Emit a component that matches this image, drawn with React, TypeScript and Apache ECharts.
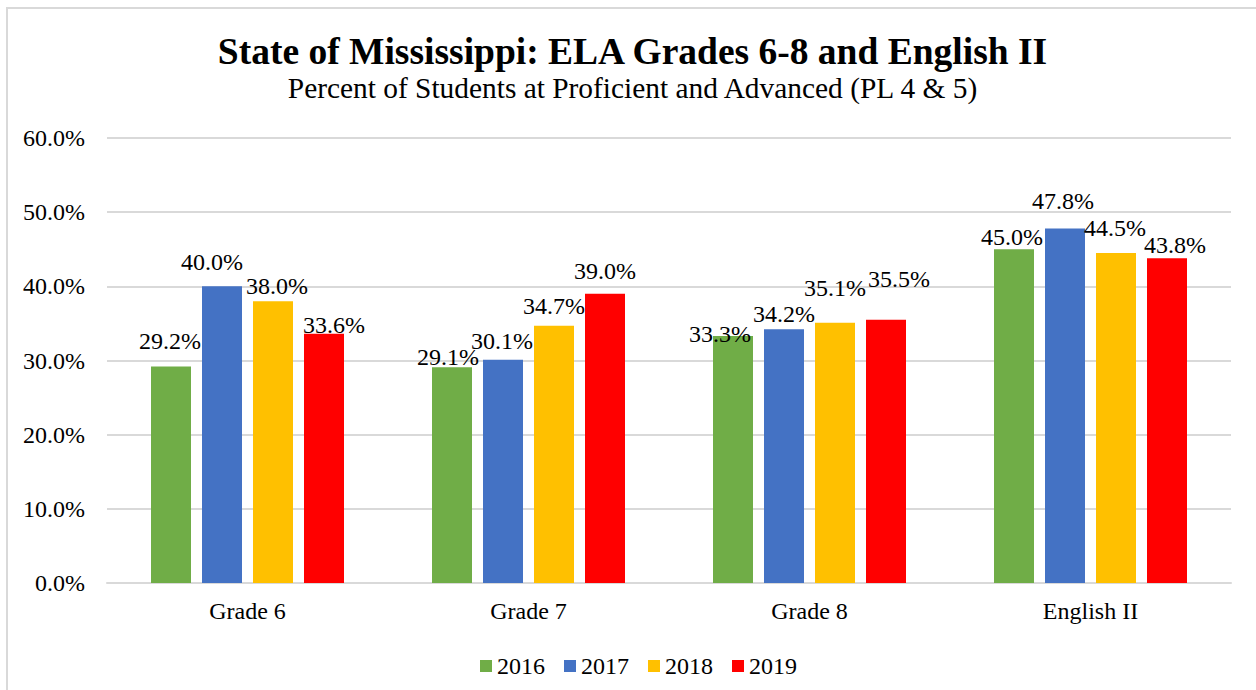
import React, { useEffect, useRef } from "react";
import * as echarts from "echarts";

const categories = ["Grade 6", "Grade 7", "Grade 8", "English II"];
const years = ["2016", "2017", "2018", "2019"];
const values2016 = [29.2, 29.1, 33.3, 45.0];
const values2017 = [40.0, 30.1, 34.2, 47.8];
const values2018 = [38.0, 34.7, 35.1, 44.5];
const values2019 = [33.6, 39.0, 35.5, 43.8];
const colors = ["#70AD47", "#4472C4", "#FFC000", "#FF0000"];

const titleText = "State of Mississippi: ELA Grades 6-8 and English II";
const subtitleText = "Percent of Students at Proficient and Advanced (PL 4 & 5)";

// hand-placed data label nudges (px) as in the original chart, per series per category
const labelNudges2016 = [[-1, -11], [-4, 4], [-13, 12], [-2, 2]];
const labelNudges2017 = [[-10, -10], [-1, -5], [0, -1], [-2, -13]];
const labelNudges2018 = [[4, -1], [0, -6], [0, -21], [-1, -11]];
const labelNudges2019 = [[10, 5], [0, -9], [13, -27], [8, 1]];

const FONT = "'Liberation Serif', 'Times New Roman', serif";

export default function App() {
  const ref = useRef<HTMLDivElement>(null);
  useEffect(() => {
    if (!ref.current) return;
    const chart = echarts.init(ref.current, undefined, { renderer: "svg" });
    const seriesData = [values2016, values2017, values2018, values2019];
    const nudges = [labelNudges2016, labelNudges2017, labelNudges2018, labelNudges2019];
    chart.setOption({
      animation: false,
      backgroundColor: "#ffffff",
      graphic: [
        {
          type: "rect",
          shape: { x: 7, y: 8, width: 1300, height: 720 },
          style: { fill: "none", stroke: "#d9d9d9", lineWidth: 2 },
          silent: true,
        },
        {
          type: "text",
          x: 632.5,
          y: 51,
          silent: true,
          style: {
            text: titleText,
            fontFamily: FONT,
            fontSize: 37.5,
            fontWeight: "bold",
            fill: "#000",
            align: "center",
            verticalAlign: "middle",
            textAlign: "center",
            textVerticalAlign: "middle",
          },
        },
        {
          type: "text",
          x: 632.5,
          y: 88,
          silent: true,
          style: {
            text: subtitleText,
            fontFamily: FONT,
            fontSize: 29.4,
            fill: "#000",
            align: "center",
            verticalAlign: "middle",
            textAlign: "center",
            textVerticalAlign: "middle",
          },
        },
      ],
      legend: {
        data: years,
        top: 649,
        left: 475,
        itemWidth: 12,
        itemHeight: 12,
        itemGap: 19,
        icon: "rect",
        textStyle: { fontFamily: FONT, fontSize: 24, color: "#000" },
      },
      grid: { left: 107, right: 25, top: 138, bottom: 107 },
      xAxis: {
        type: "category",
        data: categories,
        axisLine: { lineStyle: { color: "#d9d9d9", width: 2 } },
        axisTick: { show: false },
        axisLabel: { fontFamily: FONT, fontSize: 24, color: "#000", margin: 16 },
      },
      yAxis: {
        type: "value",
        min: 0,
        max: 60,
        interval: 10,
        axisLine: { show: false },
        axisTick: { show: false },
        splitLine: { lineStyle: { color: "#d9d9d9", width: 2 } },
        axisLabel: {
          fontFamily: FONT,
          fontSize: 24,
          color: "#000",
          margin: 22,
          formatter: (v: number) => v.toFixed(1) + "%",
        },
      },
      series: years.map((y, i) => ({
        name: y,
        type: "bar",
        data: seriesData[i].map((v, j) => ({
          value: v,
          label: { offset: nudges[i][j] },
        })),
        barWidth: 40,
        barGap: "27.5%",
        itemStyle: { color: colors[i] },
        label: {
          show: true,
          position: "top",
          distance: 2,
          fontFamily: FONT,
          fontSize: 24,
          color: "#000",
          formatter: (p: any) => Number(p.value).toFixed(1) + "%",
        },
      })),
    });
    return () => chart.dispose();
  }, []);
  return (
    <div
      ref={ref}
      style={{ position: "absolute", left: 0, top: 0, width: 1256, height: 690 }}
    />
  );
}
